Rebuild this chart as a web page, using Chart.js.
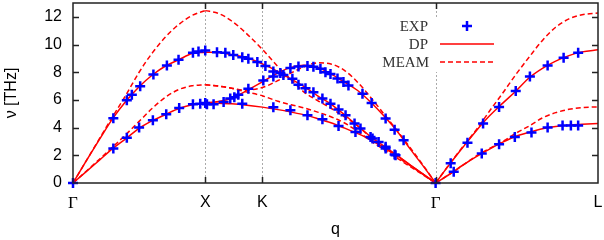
<!DOCTYPE html>
<html>
<head>
<meta charset="utf-8">
<script src="https://cdn.jsdelivr.net/npm/chart.js@4/dist/chart.umd.min.js"></script>
<style>
  html, body { margin: 0; padding: 0; background: #fff; }
  #wrap { width: 604px; height: 240px; }
</style>
</head>
<body>
<div id="wrap"><canvas id="c"></canvas></div>
<script>
/* phonon dispersion: EXP points, DP (solid) and MEAM (dashed) curves
   q is the path length, with Γ-X = 1 */

const tickPos    = [0, 1, 1.432, 2.742, 3.97];
const tickLabels = ['Γ', 'X', 'K', 'Γ', 'L'];
const yTicks     = [0, 2, 4, 6, 8, 10, 12];

// ── Γ → X ──
const qGX       = [0, 0.1, 0.2, 0.3, 0.4, 0.5, 0.6, 0.7, 0.8, 0.9, 1.0];
const dpGX_L    = [0, 1.6, 3.15, 4.65, 5.9, 6.95, 7.8, 8.45, 8.9, 9.35, 9.45];
const dpGX_T    = [0, 0.82, 1.65, 2.48, 3.2, 3.95, 4.5, 4.95, 5.38, 5.65, 5.78];
const meamGX_L  = [0, 1.6, 3.2, 4.8, 6.35, 8.0, 9.4, 10.55, 11.45, 12.1, 12.45];
const meamGX_T  = [0, 0.85, 1.72, 2.6, 3.5, 4.45, 5.4, 6.2, 6.75, 7.02, 7.1];

// ── X → K → Γ ──
const qXKG      = [1.0, 1.1, 1.2, 1.3, 1.432, 1.55, 1.65, 1.75, 1.85, 1.95, 2.05, 2.15, 2.25, 2.35, 2.45, 2.55, 2.65, 2.742];
const dpXKG_1   = [5.78, 5.88, 6.12, 6.6, 7.3, 7.95, 8.35, 8.5, 8.35, 7.88, 7.3, 6.7, 5.85, 4.85, 3.75, 2.45, 1.2, 0];
const dpXKG_2   = [9.45, 9.42, 9.27, 9.08, 8.6, 8.05, 7.5, 6.95, 6.3, 5.7, 4.95, 4.15, 3.35, 2.68, 2.0, 1.3, 0.62, 0];
const dpXKG_3   = [5.78, 5.76, 5.72, 5.64, 5.48, 5.3, 5.12, 4.92, 4.65, 4.35, 3.98, 3.58, 3.12, 2.55, 1.98, 1.3, 0.62, 0];
const meamXKG_1 = [7.1, 7.0, 6.85, 6.7, 6.9, 7.4, 7.95, 8.4, 8.68, 8.6, 8.15, 7.3, 6.2, 5.0, 3.8, 2.55, 1.25, 0];
const meamXKG_2 = [12.45, 12.25, 11.7, 10.9, 9.65, 8.4, 7.45, 6.55, 5.95, 5.4, 4.8, 4.15, 3.3, 2.6, 1.9, 1.25, 0.6, 0];
const meamXKG_3 = [7.1, 7.0, 6.85, 6.6, 6.3, 5.9, 5.65, 5.42, 5.12, 4.78, 4.35, 3.75, 3.05, 2.42, 1.8, 1.18, 0.57, 0];

// ── Γ → L ──
const qGL       = [2.742, 2.85, 2.95, 3.05, 3.15, 3.25, 3.35, 3.45, 3.55, 3.65, 3.75, 3.85, 3.97];
const dpGL_L    = [0, 1.38, 2.6, 3.78, 4.85, 5.77, 6.65, 7.6, 8.28, 8.8, 9.2, 9.47, 9.62];
const dpGL_T    = [0, 0.65, 1.3, 1.9, 2.45, 2.95, 3.38, 3.67, 3.92, 4.08, 4.18, 4.24, 4.3];
const meamGL_L  = [0, 1.4, 2.65, 3.85, 5.2, 6.5, 7.85, 9.1, 10.3, 11.25, 11.85, 12.15, 12.28];
const meamGL_T  = [0, 0.65, 1.3, 1.95, 2.5, 3.0, 3.6, 4.12, 4.7, 5.08, 5.32, 5.45, 5.5];

// ── experiment ──
const expQ = [
  0,
  0.305, 0.407, 0.445, 0.508, 0.608, 0.710, 0.798, 0.907, 0.949, 1.0,
  0.305, 0.407, 0.5, 0.604, 0.705, 0.803, 0.907, 1.0,
  0.962, 1.013, 1.063, 1.139,
  1.189, 1.220, 1.250, 1.326, 1.439, 1.515, 1.568, 1.644, 1.705, 1.773, 1.818, 1.871, 1.909, 1.947, 2.0, 2.045, 2.083, 2.189, 2.258, 2.364, 2.432, 2.5,
  1.089, 1.152, 1.212, 1.280, 1.326, 1.394, 1.455, 1.515, 1.591, 1.659, 1.705, 1.758, 1.818, 1.886, 1.947, 2.008, 2.061, 2.129, 2.174, 2.250, 2.311, 2.364, 2.439,
  1.280, 1.515, 1.644, 1.773, 1.886, 2.008, 2.136, 2.265, 2.364, 2.432,
  2.742,
  2.856, 2.983, 3.101, 3.222, 3.348, 3.455, 3.589, 3.710, 3.820,
  2.879, 3.091, 3.222, 3.341, 3.467, 3.589, 3.702, 3.765, 3.820
];
const expNu = [
  0,
  4.68, 5.97, 6.38, 6.98, 7.84, 8.49, 8.9, 9.4, 9.5, 9.57,
  2.5, 3.26, 4.0, 4.53, 4.96, 5.42, 5.68, 5.78,
  5.73, 5.68, 5.68, 5.85,
  6.1, 6.2, 6.38, 6.8, 7.41, 7.7, 7.95, 8.3, 8.42, 8.45, 8.4, 8.25, 8.0, 7.88, 7.55, 7.29, 7.05, 6.45, 5.78, 4.65, 3.84, 3.09,
  9.45, 9.4, 9.25, 9.09, 8.97, 8.73, 8.45, 8.05, 7.8, 7.53, 7.1, 6.85, 6.55, 6.1, 5.73, 5.3, 4.89, 4.29, 3.93, 3.33, 2.97, 2.61, 2.0,
  5.73, 5.47, 5.25, 4.9, 4.6, 4.12, 3.69, 3.21, 2.49, 2.05,
  0,
  1.42, 2.9, 4.29, 5.49, 6.64, 7.7, 8.49, 9.04, 9.4,
  0.81, 2.13, 2.8, 3.33, 3.64, 4.0, 4.15, 4.15, 4.15
];

const RED  = '#ff0000';
const BLUE = '#0000ff';
const SANS = 'Liberation Sans';

const curve = (q, v, dashed) => ({
  data: q.map((x, i) => ({ x, y: v[i] })),
  borderColor: RED,
  borderWidth: 1.5,
  borderDash: dashed ? [5, 3] : [],
  pointRadius: 0,
  cubicInterpolationMode: 'monotone',
  fill: false,
  order: 2,
});

const datasets = [
  {
    data: expQ.map((x, i) => ({ x, y: expNu[i] })),
    showLine: false,
    pointStyle: 'cross',
    pointRadius: 5,
    pointBorderWidth: 2.5,
    borderColor: BLUE,
    backgroundColor: BLUE,
    clip: false,
    order: 1,
  },
  curve(qGX, dpGX_L), curve(qGX, dpGX_T),
  curve(qXKG, dpXKG_1), curve(qXKG, dpXKG_2), curve(qXKG, dpXKG_3),
  curve(qGL, dpGL_L), curve(qGL, dpGL_T),
  curve(qGX, meamGX_L, true), curve(qGX, meamGX_T, true),
  curve(qXKG, meamXKG_1, true), curve(qXKG, meamXKG_2, true), curve(qXKG, meamXKG_3, true),
  curve(qGL, meamGL_L, true), curve(qGL, meamGL_T, true),
];

/* dashed symmetry-point lines + legend box, under the data */
const backdrop = {
  id: 'backdrop',
  beforeDatasetsDraw(chart) {
    const { ctx, chartArea: a, scales: { x } } = chart;
    ctx.save();
    ctx.strokeStyle = '#aaa';
    ctx.lineWidth = 1;
    ctx.setLineDash([2, 2]);
    tickPos.slice(1, -1).forEach(v => {
      const px = Math.round(x.getPixelForValue(v)) + 0.5;
      ctx.beginPath(); ctx.moveTo(px, a.top); ctx.lineTo(px, a.bottom); ctx.stroke();
    });
    ctx.setLineDash([]);

    // legend
    ctx.fillStyle = '#fff';
    ctx.fillRect(380, 17, 122, 55);
    ctx.font = '15px "Liberation Serif"';
    ctx.fillStyle = '#333';
    ctx.textAlign = 'right';
    ctx.textBaseline = 'middle';
    ctx.fillText('EXP', 428, 27);
    ctx.fillText('DP', 428, 45);
    ctx.fillText('MEAM', 429, 63);

    ctx.strokeStyle = BLUE; ctx.lineWidth = 2.5;
    ctx.beginPath();
    ctx.moveTo(462, 26); ctx.lineTo(472, 26);
    ctx.moveTo(467, 21); ctx.lineTo(467, 31);
    ctx.stroke();

    ctx.strokeStyle = RED; ctx.lineWidth = 1.5;
    ctx.beginPath(); ctx.moveTo(440, 44); ctx.lineTo(494, 44); ctx.stroke();
    ctx.setLineDash([5, 3]);
    ctx.beginPath(); ctx.moveTo(440, 62); ctx.lineTo(494, 62); ctx.stroke();
    ctx.restore();
  },
};

/* border box with inward ticks, on top */
const frame = {
  id: 'frame',
  afterDraw(chart) {
    const { ctx, chartArea: a, scales: { x, y } } = chart;
    ctx.save();
    ctx.strokeStyle = '#222';
    ctx.lineWidth = 1.5;
    ctx.strokeRect(a.left, a.top, a.right - a.left, a.bottom - a.top);
    ctx.beginPath();
    yTicks.slice(1).forEach(v => {
      const py = Math.round(y.getPixelForValue(v)) + 0.5;
      ctx.moveTo(a.left, py);  ctx.lineTo(a.left + 6, py);
      ctx.moveTo(a.right, py); ctx.lineTo(a.right - 6, py);
    });
    tickPos.slice(1, -1).forEach(v => {
      const px = Math.round(x.getPixelForValue(v)) + 0.5;
      ctx.moveTo(px, a.bottom); ctx.lineTo(px, a.bottom - 6);
      ctx.moveTo(px, a.top);    ctx.lineTo(px, a.top + 6);
    });
    ctx.stroke();
    ctx.restore();
  },
};

new Chart(document.getElementById('c'), {
  type: 'line',
  data: { datasets },
  plugins: [backdrop, frame],
  options: {
    responsive: true,
    maintainAspectRatio: false,
    animation: false,
    devicePixelRatio: 1,
    layout: { autoPadding: false, padding: { left: 0, right: 6, top: 3, bottom: 0 } },
    plugins: { legend: { display: false }, tooltip: { enabled: false } },
    scales: {
      x: {
        type: 'linear',
        min: 0,
        max: 3.97,
        afterBuildTicks: s => { s.ticks = tickPos.map(v => ({ value: v })); },
        afterFit: s => { s.height = 57; s.paddingLeft = 0; s.paddingRight = 0; },
        grid: { display: false, drawTicks: false },
        border: { display: false },
        ticks: {
          autoSkip: false,
          maxRotation: 0,
          padding: 10,
          color: '#000',
          callback: (v, i) => tickLabels[i],
          font: ctx => (ctx.tick && ctx.tick.label === 'Γ')
            ? { family: 'Liberation Serif', size: 17 }
            : { family: SANS, size: 16 },
        },
        title: {
          display: true, text: 'q', color: '#000',
          font: { family: SANS, size: 16 },
          padding: { top: 0, bottom: 1 },
        },
      },
      y: {
        min: 0,
        max: 13,
        afterBuildTicks: s => { s.ticks = yTicks.map(v => ({ value: v })); },
        afterFit: s => { s.width = 73; s.paddingTop = 0; s.paddingBottom = 0; },
        grid: { display: false, drawTicks: false },
        border: { display: false },
        ticks: { padding: 11, color: '#000', font: { family: SANS, size: 16 } },
        title: {
          display: true, text: 'ν [THz]', color: '#000',
          font: { family: SANS, size: 16 },
          padding: { top: 2, bottom: 0 },
        },
      },
    },
  },
});
</script>
</body>
</html>
